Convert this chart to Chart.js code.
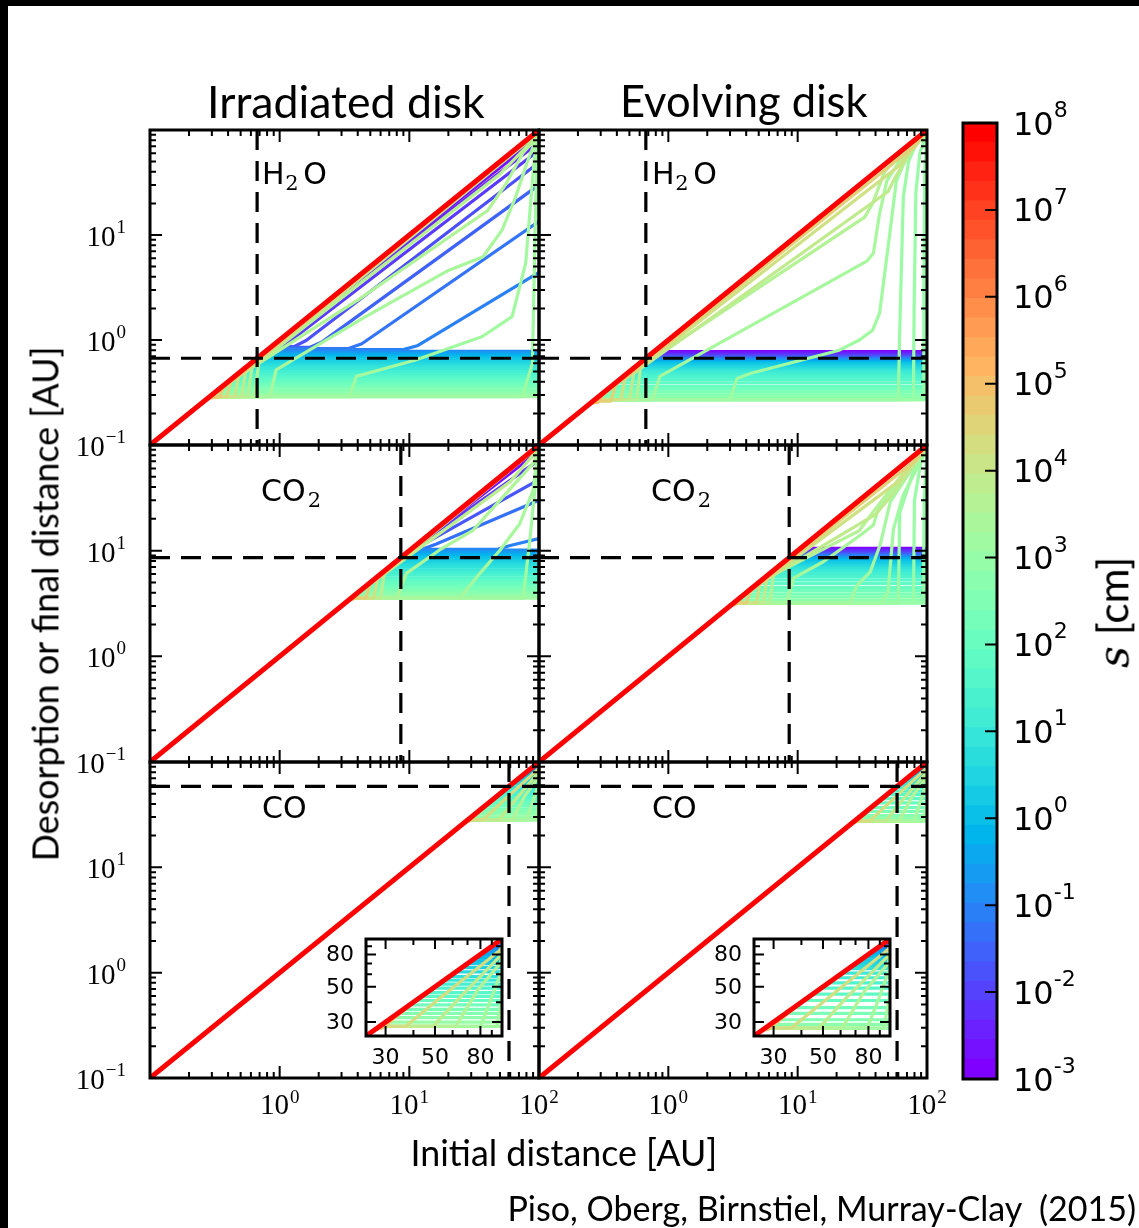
<!DOCTYPE html>
<html><head><meta charset="utf-8">
<script src="https://cdn.jsdelivr.net/npm/chart.js@4.4.1/dist/chart.umd.min.js"></script>
<style>
html,body{margin:0;padding:0;background:#fff;}
#stage{position:relative;width:1139px;height:1228px;overflow:hidden;background:#fff;}
#stage canvas{position:absolute;left:0;top:0;}
.txt{position:absolute;white-space:nowrap;color:#000;line-height:1;}
.bar{position:absolute;background:#000;}
</style></head><body>
<div id="stage">
<div class="bar" style="left:0;top:0;width:1139px;height:6px"></div>
<div class="bar" style="left:0;top:0;width:8px;height:1228px"></div>
<canvas id="cIrrH2O" width="1139" height="1228"></canvas>
<canvas id="cEvoH2O" width="1139" height="1228"></canvas>
<canvas id="cIrrCO2" width="1139" height="1228"></canvas>
<canvas id="cEvoCO2" width="1139" height="1228"></canvas>
<canvas id="cIrrCO" width="1139" height="1228"></canvas>
<canvas id="cEvoCO" width="1139" height="1228"></canvas>
<canvas id="cInsetL" width="1139" height="1228"></canvas>
<canvas id="cInsetR" width="1139" height="1228"></canvas>
<canvas id="cCbar" width="1139" height="1228"></canvas>
</div>
<script>
// ---------------- data ----------------
const SIZE_EXP_MIN = -3, SIZE_EXP_MAX = 8;          // colour scale: s = 1e-3 ... 1e8 cm
const X_RANGE = [0.1, 100];
const Y_RANGE = [0.1, 100];
const INSET_RANGE = [24.5, 100];
const snowline = [0.67, 8.6, 58.7];                  // H2O, CO2, CO  [AU]
const largestSizeLine = [[0.1, 0.1], [100, 100]];    // s = 1e8 cm, no drift
const xTickExp = ['0', '1', '2'];
const yTickExp = ['−1', '0', '1'];
const insetTickLabels = [30, 50, 80];
const insetMinorTicks = [30, 40, 50, 60, 70, 80, 90];
const cbarTickExp = [-3, -2, -1, 0, 1, 2, 3, 4, 5, 6, 7, 8];

// Irradiated disk, H2O
const irrH2O_bandExp   = [-1.0,-0.8,-0.6,-0.4,-0.2,0.0,0.2,0.4,0.6,0.8,1.0,1.2,1.4,1.6,1.8,2.0,2.2,2.4,2.6,2.8,3.0,3.2];
const irrH2O_bandLevel = [0.78,0.76,0.74,0.72,0.70,0.68,0.65,0.62,0.59,0.56,0.53,0.50,0.47,0.445,0.42,0.395,0.375,0.355,0.335,0.315,0.30,0.288];
const irrH2O_curveExp  = [5.0,4.7,4.4,4.1,3.9,3.7,3.55,3.4,3.25,3.2,-1.15,-1.35,-1.6,-1.9,-2.2,-2.5,-2.8,-3.0];
const irrH2O_curves = [
  [[0.26,0.26],[0.28,0.272],[0.32,0.31],[100,99.5]],
  [[0.28,0.28],[0.34,0.285],[0.37,0.355],[100,99]],
  [[0.288,0.288],[0.39,0.288],[0.42,0.395],[100,98]],
  [[0.288,0.288],[0.45,0.288],[0.48,0.445],[100,97]],
  [[0.288,0.288],[0.51,0.288],[0.545,0.49],[100,95]],
  [[0.288,0.288],[0.57,0.288],[0.61,0.54],[50,38],[100,92]],
  [[0.288,0.288],[0.64,0.288],[0.69,0.6],[4,2.4],[40,17],[55,30],[75,60],[100,90]],
  [[0.288,0.288],[0.84,0.288],[0.94,0.52],[4.6,1.67],[20,4.6],[37,6.2],[52,11.2],[66,23],[84,56],[95,80],[100,92]],
  [[0.288,0.288],[3.45,0.288],[3.9,0.45],[11.2,0.645],[36.6,1.08],[62,1.67],[79,5.4],[89,33],[94.4,75],[100,95]],
  [[0.288,0.288],[74.5,0.288],[89,0.6],[94.4,23],[97.5,80],[100,97]],
  [[0.81,0.81],[9.0,0.81],[11.5,0.88],[100,4.4]],
  [[0.83,0.83],[3.4,0.83],[4.3,0.92],[100,13.5]],
  [[0.85,0.85],[1.7,0.85],[2.1,0.95],[100,30]],
  [[0.86,0.86],[1.3,0.87],[1.6,0.99],[100,49]],
  [[0.86,0.86],[1.1,0.9],[100,64]],
  [[0.8,0.79],[100,76]],
  [[0.75,0.74],[100,86]],
  [[0.7,0.695],[100,93]]
];

// Evolving disk, H2O
const evoH2O_bandExp   = [-3.0,-2.8,-2.6,-2.4,-2.2,-2.0,-1.8,-1.6,-1.4,-1.2,-1.0,-0.8,-0.6,-0.4,-0.2,0.0,0.2,0.4,0.6,0.8,1.0,1.2,1.4,1.6,1.8,2.0,2.2,2.4,2.6,2.8,3.0];
const evoH2O_bandLevel = [0.775,0.76,0.745,0.73,0.715,0.70,0.69,0.68,0.67,0.66,0.65,0.64,0.63,0.62,0.61,0.60,0.58,0.56,0.54,0.52,0.50,0.475,0.45,0.42,0.39,0.36,0.34,0.32,0.30,0.285,0.27];
const evoH2O_curveExp  = [5.0,4.6,4.2,3.9,3.6,3.35,3.2,3.1,3.05,3.0];
const evoH2O_curves = [
  [[0.25,0.25],[0.285,0.255],[0.31,0.3],[100,99.5]],
  [[0.262,0.262],[0.36,0.262],[0.39,0.37],[80,70],[100,99]],
  [[0.27,0.27],[0.43,0.27],[0.46,0.42],[60,45],[80,70],[100,98]],
  [[0.27,0.27],[0.5,0.27],[0.54,0.48],[50,26],[58,37],[75,62],[100,97]],
  [[0.27,0.27],[0.57,0.27],[0.61,0.56],[33,14.8],[38,20],[47,40],[70,70],[100,97]],
  [[0.27,0.27],[0.74,0.27],[0.77,0.29],[0.86,0.45],[34,5.6],[38.5,6.7],[43,16],[49,33],[70,65],[94,83],[100,95]],
  [[0.27,0.27],[3.0,0.27],[3.4,0.43],[4.3,0.48],[21,0.8],[30,1.0],[38,1.24],[43,1.8],[52,11.2],[58,33],[70,56],[88,80],[100,95]],
  [[0.27,0.27],[60,0.27],[61.5,1.2],[65.6,23],[72,50],[83,75],[100,95]],
  [[0.27,0.27],[78.5,0.27],[79.5,2],[82,25],[88,60],[100,95]],
  [[0.27,0.27],[93.8,0.27],[94.5,3],[96,40],[100,95]]
];

// Irradiated disk, CO2
const irrCO2_bandExp   = [-1.0,-0.8,-0.6,-0.4,-0.2,0.0,0.2,0.4,0.6,0.8,1.0,1.2,1.4,1.6,1.8,2.0,2.2,2.4,2.6,2.8,3.0,3.2];
const irrCO2_bandLevel = [10.1,9.8,9.5,9.2,8.9,8.6,8.2,7.8,7.4,7.0,6.6,6.2,5.85,5.5,5.2,4.9,4.6,4.35,4.1,3.9,3.7,3.55];
const irrCO2_curveExp  = [5.0,4.6,4.2,3.8,3.5,3.35,3.25,-1.15,-1.4,-1.8,-2.3,-2.8];
const irrCO2_curves = [
  [[3.4,3.4],[3.7,3.5],[4.0,3.9],[100,99.5]],
  [[3.55,3.55],[4.6,3.55],[5.0,4.8],[100,98.5]],
  [[3.55,3.55],[5.3,3.55],[5.7,5.4],[100,97]],
  [[3.55,3.55],[6.0,3.55],[6.4,6.0],[60,45],[100,93]],
  [[3.55,3.55],[8.0,3.55],[9.5,6.1],[17,10.1],[31,15.6],[56,35],[90,67],[100,88]],
  [[3.55,3.55],[24.5,3.55],[35,6.1],[50,10.1],[71,18],[90,37],[96,72],[100,92]],
  [[3.55,3.55],[75.5,3.55],[85,12.6],[95.7,54],[100,95]],
  [[10.3,10.3],[48,10.3],[60,11.2],[100,13]],
  [[10.5,10.5],[13,10.5],[16,11.5],[100,30]],
  [[10.6,10.6],[11.5,10.7],[100,47]],
  [[10.2,10.1],[100,72]],
  [[9.5,9.4],[100,88]]
];

// Evolving disk, CO2
const evoCO2_bandExp   = [-3.0,-2.8,-2.6,-2.4,-2.2,-2.0,-1.8,-1.6,-1.4,-1.2,-1.0,-0.8,-0.6,-0.4,-0.2,0.0,0.2,0.4,0.6,0.8,1.0,1.2,1.4,1.6,1.8,2.0,2.2,2.4,2.6,2.8,3.0];
const evoCO2_bandLevel = [10.5,10.3,10.1,9.9,9.7,9.5,9.35,9.2,9.05,8.9,8.75,8.6,8.45,8.3,8.15,8.0,7.7,7.4,7.1,6.8,6.5,6.1,5.7,5.3,4.9,4.5,4.2,3.9,3.65,3.4,3.2];
const evoCO2_curveExp  = [5.0,4.6,4.2,3.9,3.6,3.4,3.3,3.2,3.1,3.05,3.0];
const evoCO2_curves = [
  [[3.0,3.0],[3.3,3.1],[3.6,3.5],[100,99.5]],
  [[3.2,3.2],[4.0,3.2],[4.3,4.1],[80,70],[100,99]],
  [[3.2,3.2],[4.8,3.2],[5.1,4.8],[60,45],[100,98]],
  [[3.2,3.2],[5.4,3.2],[5.8,5.4],[40,22],[55,35],[100,97]],
  [[3.2,3.2],[6.1,3.2],[6.5,5.9],[30,15.5],[40,25],[70,60],[100,96]],
  [[3.2,3.2],[8.2,3.2],[9.3,5.5],[15.8,7.85],[32,14.6],[38.5,17.5],[43,27],[88,75],[100,95]],
  [[3.2,3.2],[25.4,3.2],[28.8,4.7],[36.4,6.3],[43.4,11.3],[52,29],[83,69],[100,95]],
  [[3.2,3.2],[44.7,3.2],[50,4.1],[55,16],[65.6,33.6],[88.5,69],[100,95]],
  [[3.2,3.2],[60,3.2],[61.6,23],[78.5,56],[100,95]],
  [[3.2,3.2],[78.5,3.2],[80,30],[90,70],[100,95]],
  [[3.2,3.2],[93.8,3.2],[95,30],[100,90]]
];

// Irradiated disk, CO
const irrCO_bandExp   = [-1.0,-0.8,-0.6,-0.4,-0.2,0.0,0.2,0.4,0.6,0.8,1.0,1.2,1.4,1.6,1.8,2.0,2.2,2.4,2.6,2.8,3.0,3.2];
const irrCO_bandLevel = [88,85,82,79,76,73,70,66,62,58,55,52,49,46,43.5,41,38.5,36,34,32,30,28.2];
const irrCO_curveExp  = [4.8,4.3,3.9,3.6,3.35,3.25,-1.3,-1.8,-2.4];
const irrCO_curves = [
  [[27,27],[29,27.5],[41,41],[100,99]],
  [[28.2,28.2],[37,28.2],[51,41],[98,85],[100,90]],
  [[28.2,28.2],[49,28.2],[65,43],[98,78],[100,85]],
  [[28.2,28.2],[62,28.2],[78,48],[98,70],[100,76]],
  [[28.2,28.2],[80,28.2],[90,43],[100,64]],
  [[28.2,28.2],[95,28.2],[100,45]],
  [[90,90],[100,91]],
  [[93,93],[100,96]],
  [[96,96],[100,99]]
];

// Evolving disk, CO
const evoCO_bandExp   = [-3.0,-2.8,-2.6,-2.4,-2.2,-2.0,-1.8,-1.6,-1.4,-1.2,-1.0,-0.8,-0.6,-0.4,-0.2,0.0,0.2,0.4,0.6,0.8,1.0,1.2,1.4,1.6,1.8,2.0,2.2,2.4,2.6,2.8,3.0];
const evoCO_bandLevel = [96,95,94,93,92,91,90,89,88,87,86,84.5,83,81,79,77,74,71,68,65,61,57,53,49,45,41,37,34,31,29,27.5];
const evoCO_curveExp  = [4.8,4.3,3.9,3.6,3.35,3.25];
const evoCO_curves = [
  [[26.5,26.5],[28.5,27],[40,40],[100,99]],
  [[27.5,27.5],[36,27.5],[50,40],[98,86],[100,92]],
  [[27.5,27.5],[48,27.5],[63,42],[98,78],[100,86]],
  [[27.5,27.5],[61,27.5],[76,46],[98,70],[100,78]],
  [[27.5,27.5],[79,27.5],[89,42],[100,66]],
  [[27.5,27.5],[94,27.5],[100,46]]
];

// ---------------- helpers ----------------
function rainbow(t) {
  t = Math.max(0, Math.min(1, t));
  const r = Math.min(1, Math.abs(2 * t - 0.5));
  const g = Math.max(0, Math.sin(Math.PI * t));
  const b = Math.max(0, Math.cos(Math.PI * t / 2));
  return 'rgb(' + Math.round(r * 255) + ',' + Math.round(g * 255) + ',' + Math.round(b * 255) + ')';
}
function sizeColor(e) { return rainbow((e - SIZE_EXP_MIN) / (SIZE_EXP_MAX - SIZE_EXP_MIN)); }
const toXY = pts => pts.map(p => ({x: p[0], y: p[1]}));

function logTicks(lo, hi) {
  const t = [];
  for (let k = Math.floor(Math.log10(lo)); Math.pow(10, k) <= hi * 1.0001; k++) {
    for (let m = 1; m < 10; m++) {
      const v = m * Math.pow(10, k);
      if (v >= lo * 0.999 && v <= hi * 1.001) t.push({v, major: m === 1});
    }
  }
  return t;
}

function drawPow(ctx, expText, x, y, align, st) {
  ctx.font = st.base; const wb = ctx.measureText('10').width;
  ctx.font = st.sup; const ws = ctx.measureText(expText).width;
  const total = wb + st.gap + ws;
  const x0 = align === 'right' ? x - total : align === 'center' ? x - total / 2 : x;
  ctx.textAlign = 'left'; ctx.textBaseline = 'alphabetic';
  ctx.font = st.base; ctx.fillText('10', x0, y + st.baseDy);
  ctx.font = st.sup; ctx.fillText(expText, x0 + wb + st.gap, y + st.supDy);
}

const serifStyleY = {base: '29px "Liberation Serif"', sup: '19px "Liberation Serif"', gap: 1, baseDy: 11, supDy: -2};
const serifStyleX = {base: '29px "Liberation Serif"', sup: '19px "Liberation Serif"', gap: 1, baseDy: 10, supDy: -1};
const cbarStyle   = {base: '32px "DejaVu Sans"', sup: '22px "DejaVu Sans"', gap: 0, baseDy: 11.5, supDy: -6};

const decoPlugin = {
  id: 'deco',
  beforeDraw(chart, args, o) {
    if (!o.whiteBg) return;
    const a = chart.chartArea, ctx = chart.ctx;
    ctx.save(); ctx.fillStyle = '#fff';
    ctx.fillRect(a.left - 2, a.top - 2, a.right - a.left + 4, a.bottom - a.top + 4);
    ctx.restore();
  },
  afterDraw(chart, args, o) {
    const ctx = chart.ctx, a = chart.chartArea, xs = chart.scales.x, ys = chart.scales.y;
    ctx.save();
    ctx.strokeStyle = '#000'; ctx.fillStyle = '#000'; ctx.lineCap = 'butt';
    ctx.lineWidth = o.tickWidth;
    ctx.beginPath();
    (o.xTicks || []).forEach(t => {
      const px = xs.getPixelForValue(t.v);
      if (px < a.left - 0.5 || px > a.right + 0.5) return;
      const L = t.major ? o.majorLen : o.minorLen;
      ctx.moveTo(px, a.bottom); ctx.lineTo(px, a.bottom - L);
      ctx.moveTo(px, a.top); ctx.lineTo(px, a.top + L);
    });
    (o.yTicks || []).forEach(t => {
      const py = ys.getPixelForValue(t.v);
      if (py < a.top - 0.5 || py > a.bottom + 0.5) return;
      const L = t.major ? o.majorLen : o.minorLen;
      if (o.ticksLeft !== false) { ctx.moveTo(a.left, py); ctx.lineTo(a.left + L, py); }
      if (o.ticksRight !== false) { ctx.moveTo(a.right, py); ctx.lineTo(a.right - L, py); }
    });
    ctx.stroke();
    ctx.lineWidth = o.frameWidth;
    ctx.strokeRect(a.left, a.top, a.right - a.left, a.bottom - a.top);
    (o.yPowLabels || []).forEach(l => drawPow(ctx, l.text, a.left - 24, ys.getPixelForValue(l.v), 'right', serifStyleY));
    (o.xPowLabels || []).forEach(l => drawPow(ctx, l.text, xs.getPixelForValue(l.v), a.bottom + 26, 'center', serifStyleX));
    (o.rightPowLabels || []).forEach(l => drawPow(ctx, l.text, a.right + 16, ys.getPixelForValue(l.v), 'left', cbarStyle));
    if (o.plainLabels) {
      ctx.font = '22px "DejaVu Sans"'; ctx.textBaseline = 'middle';
      ctx.textAlign = 'right';
      o.plainLabels.y.forEach(v => ctx.fillText(String(v), a.left - 12, ys.getPixelForValue(v) + 1));
      ctx.textAlign = 'center';
      o.plainLabels.x.forEach(v => ctx.fillText(String(v), xs.getPixelForValue(v), a.bottom + 22));
    }
    ctx.restore();
  }
};

function buildDatasets(bandExp, bandLevel, curveExp, curves, snow, withDash) {
  const lines = [];
  bandExp.forEach((e, i) => lines.push({e, pts: [[bandLevel[i], bandLevel[i]], [X_RANGE[1], bandLevel[i]]]}));
  curveExp.forEach((e, i) => lines.push({e, pts: curves[i]}));
  lines.sort((a, b) => b.e - a.e);   // larger grains drawn on top (first dataset is on top in Chart.js)
  const base = {pointRadius: 0, borderJoinStyle: 'round', borderCapStyle: 'butt', tension: 0, fill: false};
  const ds = [];
  if (withDash) {
    ds.push(Object.assign({}, base, {data: toXY([[X_RANGE[0], snow], [X_RANGE[1], snow]]), borderColor: '#000', borderWidth: 3.2, borderDash: [20, 11]}));
    ds.push(Object.assign({}, base, {data: toXY([[snow, Y_RANGE[1]], [snow, Y_RANGE[0]]]), borderColor: '#000', borderWidth: 3.2, borderDash: [20, 11]}));
  }
  ds.push(Object.assign({}, base, {data: toXY(largestSizeLine), borderColor: sizeColor(SIZE_EXP_MAX), borderWidth: 5}));
  lines.forEach(l => ds.push(Object.assign({}, base, {data: toXY(l.pts), borderColor: sizeColor(l.e), borderWidth: 3.2})));
  return ds;
}

const W = 1139, H = 1228;
function makeLogChart(id, area, datasets, range, deco) {
  return new Chart(document.getElementById(id), {
    type: 'line',
    data: {datasets},
    options: {
      responsive: false, animation: false, devicePixelRatio: 1, events: [],
      layout: {padding: {left: area.l, top: area.t, right: W - area.r, bottom: H - area.b}},
      scales: {
        x: {type: 'logarithmic', min: range[0], max: range[1], display: false},
        y: {type: 'logarithmic', min: range[0], max: range[1], display: false}
      },
      plugins: {legend: {display: false}, tooltip: {enabled: false}, deco}
    },
    plugins: [decoPlugin]
  });
}

const mainTicks = logTicks(X_RANGE[0], X_RANGE[1]);
const yPow = [{v: 10, text: yTickExp[2]}, {v: 1, text: yTickExp[1]}, {v: 0.1, text: yTickExp[0]}];
const xPow = [{v: 1, text: xTickExp[0]}, {v: 10, text: xTickExp[1]}, {v: 100, text: xTickExp[2]}];
function mainDeco(left, bottom) {
  return {xTicks: mainTicks, yTicks: mainTicks, majorLen: 12, minorLen: 6, tickWidth: 2, frameWidth: 3,
          yPowLabels: left ? yPow : [], xPowLabels: bottom ? xPow : []};
}

const areas = {
  irrH2O: {l: 150, r: 539, t: 130, b: 445}, evoH2O: {l: 539, r: 927, t: 130, b: 445},
  irrCO2: {l: 150, r: 539, t: 445, b: 762}, evoCO2: {l: 539, r: 927, t: 445, b: 762},
  irrCO:  {l: 150, r: 539, t: 762, b: 1078}, evoCO: {l: 539, r: 927, t: 762, b: 1078},
  insetL: {l: 366, r: 502, t: 939, b: 1036}, insetR: {l: 754, r: 890, t: 939, b: 1036},
  cbar:   {l: 963, r: 997, t: 123, b: 1079}
};

makeLogChart('cIrrH2O', areas.irrH2O, buildDatasets(irrH2O_bandExp, irrH2O_bandLevel, irrH2O_curveExp, irrH2O_curves, snowline[0], true), X_RANGE, mainDeco(true, false));
makeLogChart('cEvoH2O', areas.evoH2O, buildDatasets(evoH2O_bandExp, evoH2O_bandLevel, evoH2O_curveExp, evoH2O_curves, snowline[0], true), X_RANGE, mainDeco(false, false));
makeLogChart('cIrrCO2', areas.irrCO2, buildDatasets(irrCO2_bandExp, irrCO2_bandLevel, irrCO2_curveExp, irrCO2_curves, snowline[1], true), X_RANGE, mainDeco(true, false));
makeLogChart('cEvoCO2', areas.evoCO2, buildDatasets(evoCO2_bandExp, evoCO2_bandLevel, evoCO2_curveExp, evoCO2_curves, snowline[1], true), X_RANGE, mainDeco(false, false));
makeLogChart('cIrrCO',  areas.irrCO,  buildDatasets(irrCO_bandExp, irrCO_bandLevel, irrCO_curveExp, irrCO_curves, snowline[2], true), X_RANGE, mainDeco(true, true));
makeLogChart('cEvoCO',  areas.evoCO,  buildDatasets(evoCO_bandExp, evoCO_bandLevel, evoCO_curveExp, evoCO_curves, snowline[2], true), X_RANGE, mainDeco(false, true));

const insetTicks = insetMinorTicks.map(v => ({v, major: insetTickLabels.includes(v)}));
function insetDeco() {
  return {whiteBg: true, xTicks: insetTicks, yTicks: insetTicks, majorLen: 10, minorLen: 6, tickWidth: 2, frameWidth: 3,
          plainLabels: {x: insetTickLabels, y: insetTickLabels}};
}
makeLogChart('cInsetL', areas.insetL, buildDatasets(irrCO_bandExp, irrCO_bandLevel, irrCO_curveExp, irrCO_curves, snowline[2], false), INSET_RANGE, insetDeco());
makeLogChart('cInsetR', areas.insetR, buildDatasets(evoCO_bandExp, evoCO_bandLevel, evoCO_curveExp, evoCO_curves, snowline[2], false), INSET_RANGE, insetDeco());

// colour bar: 49 discrete bands of the rainbow map, drawn as floating bars on a log axis
const CBAR_BANDS = 49;
const cbarDatasets = [];
for (let i = 0; i < CBAR_BANDS; i++) {
  const e0 = SIZE_EXP_MIN + (SIZE_EXP_MAX - SIZE_EXP_MIN) * i / CBAR_BANDS;
  const e1 = SIZE_EXP_MIN + (SIZE_EXP_MAX - SIZE_EXP_MIN) * (i + 1) / CBAR_BANDS;
  cbarDatasets.push({data: [[Math.pow(10, e0), Math.pow(10, e1 + 0.004)]], backgroundColor: rainbow(i / (CBAR_BANDS - 1)),
                     borderWidth: 0, grouped: false, barPercentage: 1, categoryPercentage: 1});
}
const cbarTicks = cbarTickExp.slice(1, -1).map(e => ({v: Math.pow(10, e), major: true}));
new Chart(document.getElementById('cCbar'), {
  type: 'bar',
  data: {labels: ['s'], datasets: cbarDatasets},
  options: {
    responsive: false, animation: false, devicePixelRatio: 1, events: [],
    layout: {padding: {left: areas.cbar.l, top: areas.cbar.t, right: W - areas.cbar.r, bottom: H - areas.cbar.b}},
    scales: {x: {display: false}, y: {type: 'logarithmic', min: Math.pow(10, SIZE_EXP_MIN), max: Math.pow(10, SIZE_EXP_MAX), display: false}},
    plugins: {legend: {display: false}, tooltip: {enabled: false},
      deco: {yTicks: cbarTicks, ticksLeft: false, majorLen: 12, minorLen: 6, tickWidth: 2, frameWidth: 3,
             rightPowLabels: cbarTickExp.map(e => ({v: Math.pow(10, e), text: String(e)}))}}
  },
  plugins: [decoPlugin]
});

// ---------------- text ----------------
const stage = document.getElementById('stage');
function addText(html, cfg) {
  const el = document.createElement('div');
  el.className = 'txt'; el.innerHTML = html;
  el.style.fontFamily = cfg.font; el.style.fontSize = cfg.size + 'px';
  stage.appendChild(el);
  let w = el.offsetWidth;
  if (cfg.fitW) { el.style.fontSize = (cfg.size * cfg.fitW / w) + 'px'; w = el.offsetWidth; }
  const h = el.offsetHeight;
  el.style.left = (cfg.left !== undefined ? cfg.left : cfg.cx - w / 2) + 'px';
  el.style.top = (cfg.cy - h / 2) + 'px';
  if (cfg.rot) el.style.transform = 'rotate(' + cfg.rot + 'deg)';
}
const SANS = 'Lato, "Open Sans", sans-serif';
addText('Irradiated disk', {font: SANS, size: 40, fitW: 278, cx: 346, cy: 101});
addText('Evolving disk', {font: SANS, size: 40, fitW: 248, cx: 744, cy: 101});
addText('Desorption or final distance [AU]', {font: SANS, size: 30, fitW: 515, cx: 45, cy: 604, rot: -90});
addText('Initial distance [AU]', {font: SANS, size: 30, fitW: 307, cx: 564, cy: 1153});
addText('Piso, Oberg, Birnstiel, Murray-Clay&nbsp;&nbsp;(2015)', {font: SANS, size: 30, fitW: 629, cx: 822, cy: 1208});
addText('<i style="font-family:\'DejaVu Serif\'">s</i> [cm]', {font: SANS, size: 30, fitW: 112, cx: 1113, cy: 612, rot: -90});
const subH = '<span style="font-family:\'DejaVu Serif\';font-size:0.7em;position:relative;top:0.3em;margin:0 0.22em 0 0.03em">2</span>';
const subC = '<span style="font-family:\'DejaVu Serif\';font-size:0.7em;position:relative;top:0.3em;margin-left:0.1em">2</span>';
const mol = {font: '"DejaVu Sans"', size: 30};
addText('H' + subH + 'O', Object.assign({left: 262, cy: 174}, mol));
addText('H' + subH + 'O', Object.assign({left: 652, cy: 174}, mol));
addText('CO' + subC, Object.assign({left: 261, cy: 491}, mol));
addText('CO' + subC, Object.assign({left: 651, cy: 491}, mol));
addText('CO', Object.assign({left: 262, cy: 808}, mol));
addText('CO', Object.assign({left: 652, cy: 808}, mol));
</script>
</body></html>
